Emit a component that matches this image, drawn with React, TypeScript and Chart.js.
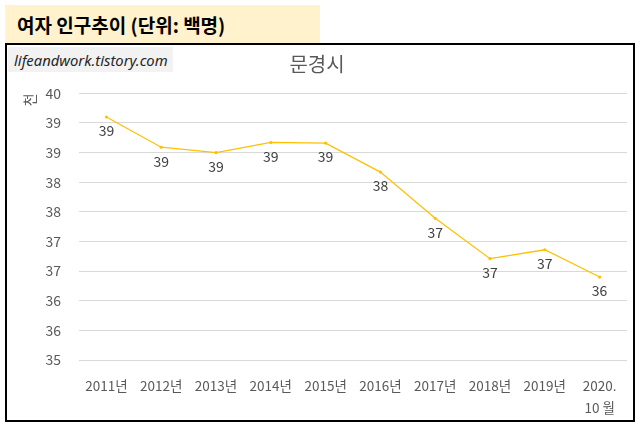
import React, { useEffect, useRef } from 'react';
import { Chart, registerables } from 'chart.js';

Chart.register(...registerables);

const categories = ['2011년', '2012년', '2013년', '2014년', '2015년', '2016년', '2017년', '2018년', '2019년', '2020.\n10 월'];
const values = [39.6, 39.09, 39.0, 39.17, 39.16, 38.67, 37.89, 37.21, 37.36, 36.9];
const dataLabels = ['39', '39', '39', '39', '39', '38', '37', '37', '37', '36'];
// tick labels for 35.5, 36, 36.5 ... 40 (Excel "0" format shows them truncated)
const yTickLabels = ['35', '36', '36', '37', '37', '38', '38', '39', '39', '40'];
const yMin = 35.5;
const yMax = 40;
const yStep = 0.5;

const FONT = "'Noto Sans CJK KR', 'Noto Sans', sans-serif";

const dataLabelPlugin = {
  id: 'dataLabelPlugin',
  afterDatasetsDraw(chart: any) {
    const ctx = chart.ctx;
    const meta = chart.getDatasetMeta(0);
    ctx.save();
    ctx.font = `14px ${FONT}`;
    ctx.fillStyle = '#404040';
    ctx.textAlign = 'center';
    ctx.textBaseline = 'middle';
    meta.data.forEach((pt: any, i: number) => {
      ctx.fillText(dataLabels[i], pt.x, pt.y + 14);
    });
    ctx.restore();
  },
};

function LineChart() {
  const ref = useRef<HTMLCanvasElement>(null);
  useEffect(() => {
    if (!ref.current) return;
    const chart = new Chart(ref.current, {
      type: 'line',
      data: {
        labels: categories,
        datasets: [
          {
            data: values,
            borderColor: '#FFC000',
            backgroundColor: '#FFC000',
            borderWidth: 1.25,
            pointRadius: 1.6,
            pointBorderWidth: 0,
            pointBackgroundColor: '#FFC000',
            tension: 0,
          },
        ],
      },
      options: {
        animation: false,
        responsive: false,
        devicePixelRatio: 1,
        layout: { padding: { left: 0, right: 6, top: 0, bottom: 0 } },
        plugins: {
          legend: { display: false },
          tooltip: { enabled: false },
          title: {
            display: true,
            text: '문경시',
            color: '#595959',
            font: { family: FONT, size: 20, weight: 'normal' },
            padding: { top: 7, bottom: 17.3 },
          },
        },
        scales: {
          x: {
            offset: true,
            grid: { display: false, drawTicks: false },
            border: { display: false },
            ticks: {
              color: '#595959',
              font: { family: FONT, size: 13.5, lineHeight: 1.6 },
              padding: 15,
              maxRotation: 0,
              autoSkip: false,
              callback: function (this: any, value: any, index: number) {
                const l = categories[index];
                return l.includes('\n') ? l.split('\n') : l;
              },
            },
            afterFit(scale: any) {
              scale.height = 60;
            },
          },
          y: {
            min: yMin,
            max: yMax,
            grid: { color: '#D9D9D9', lineWidth: 1, drawTicks: false },
            border: { display: false },
            ticks: {
              stepSize: yStep,
              color: '#595959',
              font: { family: FONT, size: 14 },
              padding: 18,
              callback: (value: any) => {
                const idx = Math.round((Number(value) - yMin) / yStep);
                return yTickLabels[idx] ?? '';
              },
            },
            title: {
              display: true,
              text: '천',
              align: 'end',
              color: '#595959',
              font: { family: FONT, size: 14 },
              padding: { top: 14, bottom: 0 },
            },
            afterFit(scale: any) {
              scale.width = 72;
            },
          },
        },
      },
      plugins: [dataLabelPlugin],
    } as any);
    return () => chart.destroy();
  }, []);
  return <canvas ref={ref} width={626} height={375} style={{ display: 'block', width: 626, height: 375 }} />;
}

export default function App() {
  return (
    <div style={{ position: 'absolute', left: 0, top: 0, width: 644, height: 432, background: '#fff', fontFamily: FONT }}>
      <div
        style={{
          position: 'absolute',
          left: 5,
          top: 5,
          width: 315,
          height: 38,
          background: '#FFF2CC',
          boxSizing: 'border-box',
          paddingLeft: 12,
          display: 'flex',
          alignItems: 'center',
          fontWeight: 'bold',
          fontSize: 19,
          color: '#000',
        }}
      >
        여자 인구추이 (단위: 백명)
      </div>
      <div
        style={{
          position: 'absolute',
          left: 5,
          top: 43,
          width: 630,
          height: 379,
          border: '2px solid #000',
          boxSizing: 'border-box',
        }}
      >
        <LineChart />
        <div
          style={{
            position: 'absolute',
            left: 1,
            top: 2,
            width: 165,
            height: 25,
            background: '#F2F2F2',
            display: 'flex',
            alignItems: 'center',
            paddingLeft: 6,
            boxSizing: 'border-box',
            fontStyle: 'italic',
            fontSize: 14.8,
            fontFamily: "'Noto Sans', sans-serif",
            color: '#262626',
            whiteSpace: 'nowrap',
          }}
        >
          lifeandwork.tistory.com
        </div>
      </div>
    </div>
  );
}
